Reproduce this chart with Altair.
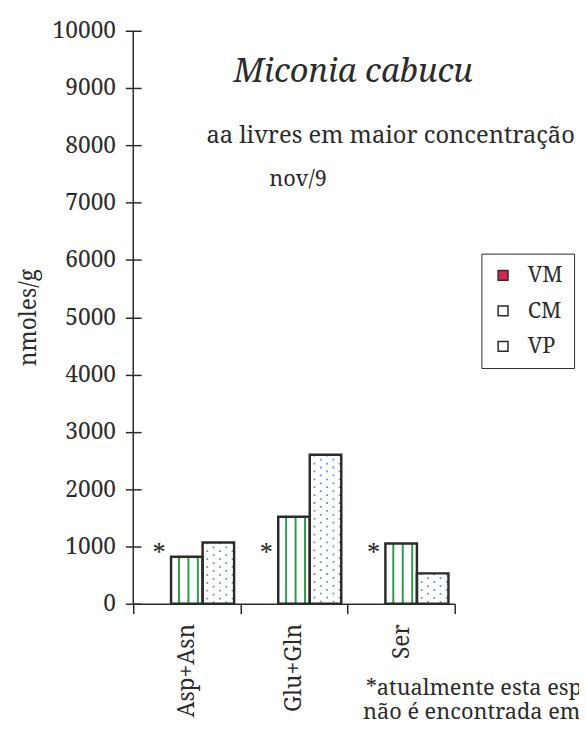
import altair as alt
import pandas as pd

# ---- data ----
categories = ["Asp+Asn", "Glu+Gln", "Ser"]
series = ["VM", "CM", "VP"]
vm_values = [0, 0, 0]
cm_values = [820, 1520, 1050]
vp_values = [1070, 2600, 530]
y_ticks = [0, 1000, 2000, 3000, 4000, 5000, 6000, 7000, 8000, 9000, 10000]

title_text = "Miconia cabucu"
subtitle_text = "aa livres em maior concentração"
date_text = "nov/9"
note_lines = ["*atualmente esta espécie", "não é encontrada em VM"]

# ---- styling ----
SERIF = "Noto Serif, DejaVu Serif, serif"
INK = "#2b2b2b"
RED = "#dc2351"
GREEN = "#2f9a4c"
BLUE = "#6a8ed6"
W, H = 326, 581
SUB = 10                              # sub-columns per series slot (pattern lines)
stripe_cols = [2, 5, 8]               # green stripes inside CM bars
dot_cols = [1, 3, 5, 7, 9]            # dotted columns inside VP bars
star_col = "VM6"

rows, pattern_rows = [], []
for i, cat in enumerate(categories):
    for s, vals in zip(series, [vm_values, cm_values, vp_values]):
        rows.append({"aa": cat, "serie": s, "valor": vals[i]})
    for k in stripe_cols:
        pattern_rows.append({"aa": cat, "col": f"CM{k}", "kind": "stripe", "k": k,
                             "valor": cm_values[i]})
    for k in dot_cols:
        pattern_rows.append({"aa": cat, "col": f"VP{k}", "kind": "dot", "k": k,
                             "valor": vp_values[i]})
df = pd.DataFrame(rows)
pat = pd.DataFrame(pattern_rows)
sub_domain = (["L0", "L1"] + [f"{s}{k}" for s in series for k in range(SUB)]
              + ["R0", "R1"])

x_enc = alt.X(
    "aa:N", sort=categories,
    scale=alt.Scale(paddingInner=0, paddingOuter=0),
    axis=alt.Axis(title=None, labelAngle=-90, labelFont=SERIF, labelFontSize=23,
                  labelColor=INK, tickBand="extent", tickSize=10, tickWidth=1.5,
                  tickColor=INK, domainColor=INK, domainWidth=1.5, labelPadding=10),
)
xo_enc = alt.XOffset("serie:N", sort=series,
                     scale=alt.Scale(domain=series, paddingInner=0, paddingOuter=0.2))
xo_sub = alt.XOffset("col:N", scale=alt.Scale(domain=sub_domain, paddingInner=0,
                                               paddingOuter=0))
y_scale = alt.Scale(domain=[0, 10000])
y_axis = alt.Axis(values=y_ticks, format="d", title="nmoles/g", titleFont=SERIF,
                  titleFontSize=23, titleFontWeight="normal", titleColor=INK,
                  titlePadding=12, labelFont=SERIF, labelFontSize=23, labelColor=INK,
                  labelPadding=10, tickSize=16, tickWidth=1.5, tickColor=INK,
                  offset=-8, domain=False, grid=False)
def y_enc(field="valor"):
    return alt.Y(f"{field}:Q", scale=y_scale, axis=y_axis)

base = alt.Chart(df)

fills = base.mark_bar(strokeWidth=0).encode(
    x=x_enc, xOffset=xo_enc, y=y_enc(),
    fill=alt.Fill("serie:N", sort=series,
                  scale=alt.Scale(domain=series, range=[RED, "#ffffff", "#ffffff"]),
                  legend=alt.Legend(title=None, orient="none", legendX=353, legendY=226,
                                    strokeColor=INK, padding=11, labelFont=SERIF,
                                    labelFontSize=22, labelColor=INK, symbolType="square",
                                    symbolSize=100, symbolStrokeColor=INK,
                                    symbolStrokeWidth=1.5, rowPadding=14, labelOffset=14)),
)

stripes = (
    alt.Chart(pat).transform_filter(alt.datum.kind == "stripe")
    .mark_rule(color=GREEN, strokeWidth=2)
    .encode(x=x_enc, xOffset=xo_sub, y=y_enc(), y2=alt.datum(0))
)
dots_a = (
    alt.Chart(pat).transform_filter("datum.kind == 'dot' && datum.k % 4 == 1")
    .mark_rule(color=BLUE, strokeWidth=1.8, strokeDash=[1.8, 6.2])
    .encode(x=x_enc, xOffset=xo_sub, y=y_enc(), y2=alt.datum(0))
)
dots_b = (
    alt.Chart(pat).transform_filter("datum.kind == 'dot' && datum.k % 4 == 3")
    .mark_rule(color=BLUE, strokeWidth=1.8, strokeDash=[1.8, 6.2], strokeDashOffset=4)
    .encode(x=x_enc, xOffset=xo_sub, y=y_enc(), y2=alt.datum(0))
)

outline = (
    base.transform_filter(alt.datum.serie != "VM")
    .mark_bar(fillOpacity=0, stroke=INK, strokeWidth=2.5)
    .encode(x=x_enc, xOffset=xo_enc, y=y_enc())
)

y_line = (
    alt.Chart(pd.DataFrame({"valor": [y_ticks[0]], "hi": [y_ticks[-1]]}))
    .mark_rule(color=INK, strokeWidth=1.5)
    .encode(x=alt.value(0), y=y_enc(), y2="hi:Q")
)

stars = (
    base.transform_filter(alt.datum.serie == "VM")
    .transform_calculate(col=f"'{star_col}'")
    .mark_text(text="*", font=SERIF, fontSize=26, color=INK, baseline="alphabetic", dy=-41)
    .encode(x=x_enc, xOffset=xo_sub, y=y_enc())
)

def label(txt, x, y, size, align="left", italic=False):
    return alt.Chart(pd.DataFrame({"t": [txt]})).mark_text(
        font=SERIF, fontSize=size, color=INK, align=align, baseline="alphabetic",
        fontStyle=("italic" if italic else "normal"),
    ).encode(text="t:N", x=alt.value(x), y=alt.value(y))

layers = [fills, stripes, dots_a, dots_b, outline, y_line, stars,
          label(title_text, 223, 52, 33, align="center", italic=True),
          label(subtitle_text, 261, 114, 24, align="center"),
          label(date_text, 138, 157, 22),
          label(note_lines[0], 236, 674, 22),
          label(note_lines[1], 233, 698, 22)]

chart = (
    alt.layer(*layers)
    .resolve_scale(xOffset="independent")
    .properties(
        width=W, height=H,
        autosize=alt.AutoSizeParams(type="none"),
        padding={"left": 127, "top": 18, "right": 126, "bottom": 127},
        background="white",
    )
    .configure_view(strokeWidth=0)
)

chart.save("out.html", embed_options={"renderer": "svg", "actions": False})
